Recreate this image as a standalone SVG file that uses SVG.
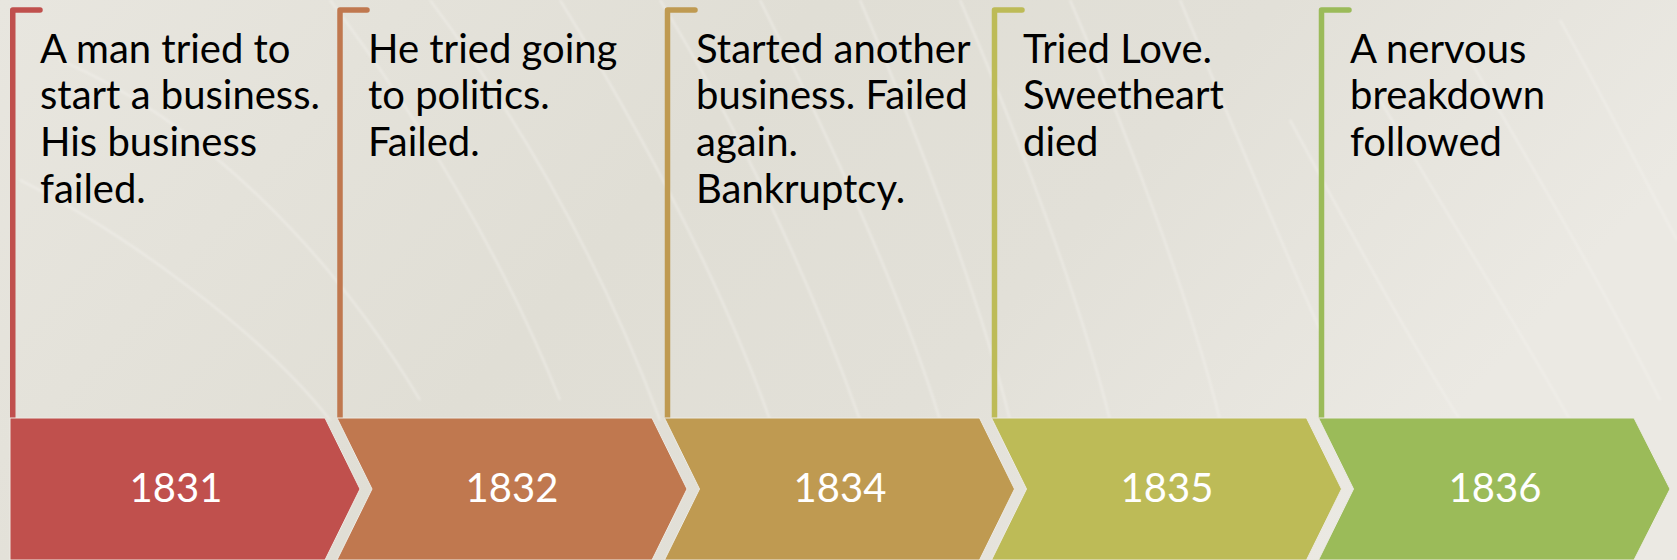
<svg xmlns="http://www.w3.org/2000/svg" width="1677" height="560" viewBox="0 0 1677 560">
  <defs>
    <linearGradient id="bg" x1="0" y1="0" x2="1" y2="0.3">
      <stop offset="0" stop-color="#E8E6DF"/>
      <stop offset="0.45" stop-color="#E0DED5"/>
      <stop offset="0.7" stop-color="#E2E0D8"/>
      <stop offset="1" stop-color="#EBE9E3"/>
    </linearGradient>
    <filter id="soft" x="-10%" y="-10%" width="120%" height="120%">
      <feGaussianBlur stdDeviation="1.2"/>
    </filter>
    <style>
      .txt { font-family: Lato, "Liberation Sans", sans-serif; font-size: 40px; fill: #000000; }
      .year { font-family: Lato, "Liberation Sans", sans-serif; font-size: 40px; fill: #FFFFFF; text-anchor: middle; }
      .flag { fill: none; stroke-width: 5.5; stroke-linecap: round; stroke-linejoin: round; }
      .chev { stroke: #ECEAE4; stroke-width: 1; }
      .sheen { fill: none; stroke: #F4F3EE; stroke-width: 2; opacity: 0.55; }
    </style>
  </defs>

  <!-- backdrop with soft sweeping lines -->
  <g id="background">
    <rect x="0" y="0" width="1677" height="560" fill="url(#bg)"/>
    <g filter="url(#soft)">
      <path class="sheen" d="M 20 180 C 120 230 260 330 330 420"/>
      <path class="sheen" d="M 60 60 C 200 120 330 250 420 400"/>
      <path class="sheen" d="M 330 0 C 420 120 500 250 560 400"/>
      <path class="sheen" d="M 430 0 C 520 120 600 260 660 420"/>
      <path class="sheen" d="M 560 0 C 640 130 720 280 770 420"/>
      <path class="sheen" d="M 660 0 C 740 130 810 280 860 420"/>
      <path class="sheen" d="M 760 0 C 830 140 900 290 940 420"/>
      <path class="sheen" d="M 860 0 C 920 140 980 300 1010 420"/>
      <path class="sheen" d="M 960 0 C 1020 140 1080 300 1110 420"/>
      <path class="sheen" d="M 1070 0 C 1130 140 1190 300 1220 420"/>
      <path class="sheen" d="M 1180 0 C 1230 120 1280 240 1320 330"/>
      <path class="sheen" d="M 1290 120 C 1360 250 1410 340 1460 420"/>
      <path class="sheen" d="M 1380 100 C 1450 220 1520 330 1570 420"/>
      <path class="sheen" d="M 1470 60 C 1540 180 1610 300 1660 400"/>
      <path class="sheen" d="M 1560 20 C 1610 110 1650 190 1677 240"/>
    </g>
  </g>

  <!-- timeline arrows and their captions -->
  <g id="connectors"/>

  <g id="step-1831">
    <path class="flag" stroke="#C0504D" d="M 12.75 418 V 10 H 40"/>
    <polygon class="chev" fill="#C0504D" points="10,418 325,418 360,489 325,560 10,560"/>
    <text class="year" x="176" y="502">1831</text>
    <text class="txt" x="40" y="62.7">A man tried to</text>
    <text class="txt" x="40" y="109.3">start a business.</text>
    <text class="txt" x="40" y="156">His business</text>
    <text class="txt" x="40" y="202.7">failed.</text>
  </g>

  <g id="step-1832">
    <path class="flag" stroke="#C0784F" d="M 340 418 V 10 H 367"/>
    <polygon class="chev" fill="#C0784F" points="337,418 652,418 687,489 652,560 337,560 372,489"/>
    <text class="year" x="512" y="502">1832</text>
    <text class="txt" x="368" y="62.7">He tried going</text>
    <text class="txt" x="368" y="109.3">to politics.</text>
    <text class="txt" x="368" y="156">Failed.</text>
  </g>

  <g id="step-1834">
    <path class="flag" stroke="#BF9A51" d="M 667.5 418 V 10 H 695"/>
    <polygon class="chev" fill="#BF9A51" points="664.5,418 979.5,418 1014.5,489 979.5,560 664.5,560 699.5,489"/>
    <text class="year" x="840" y="502">1834</text>
    <text class="txt" x="696" y="62.7">Started another</text>
    <text class="txt" x="696" y="109.3">business. Failed</text>
    <text class="txt" x="696" y="156">again.</text>
    <text class="txt" x="696" y="202.7">Bankruptcy.</text>
  </g>

  <g id="step-1835">
    <path class="flag" stroke="#BDBB57" d="M 994.5 418 V 10 H 1022"/>
    <polygon class="chev" fill="#BDBB57" points="991.5,418 1306.5,418 1341.5,489 1306.5,560 991.5,560 1026.5,489"/>
    <text class="year" x="1167" y="502">1835</text>
    <text class="txt" x="1023" y="62.7">Tried Love.</text>
    <text class="txt" x="1023" y="109.3">Sweetheart</text>
    <text class="txt" x="1023" y="156">died</text>
  </g>

  <g id="step-1836">
    <path class="flag" stroke="#9BBB59" d="M 1321.5 418 V 10 H 1349"/>
    <polygon class="chev" fill="#9BBB59" points="1318.5,418 1634,418 1670,489 1634,560 1318.5,560 1353.5,489"/>
    <text class="year" x="1495" y="502">1836</text>
    <text class="txt" x="1350" y="62.7">A nervous</text>
    <text class="txt" x="1350" y="109.3">breakdown</text>
    <text class="txt" x="1350" y="156">followed</text>
  </g>
</svg>
